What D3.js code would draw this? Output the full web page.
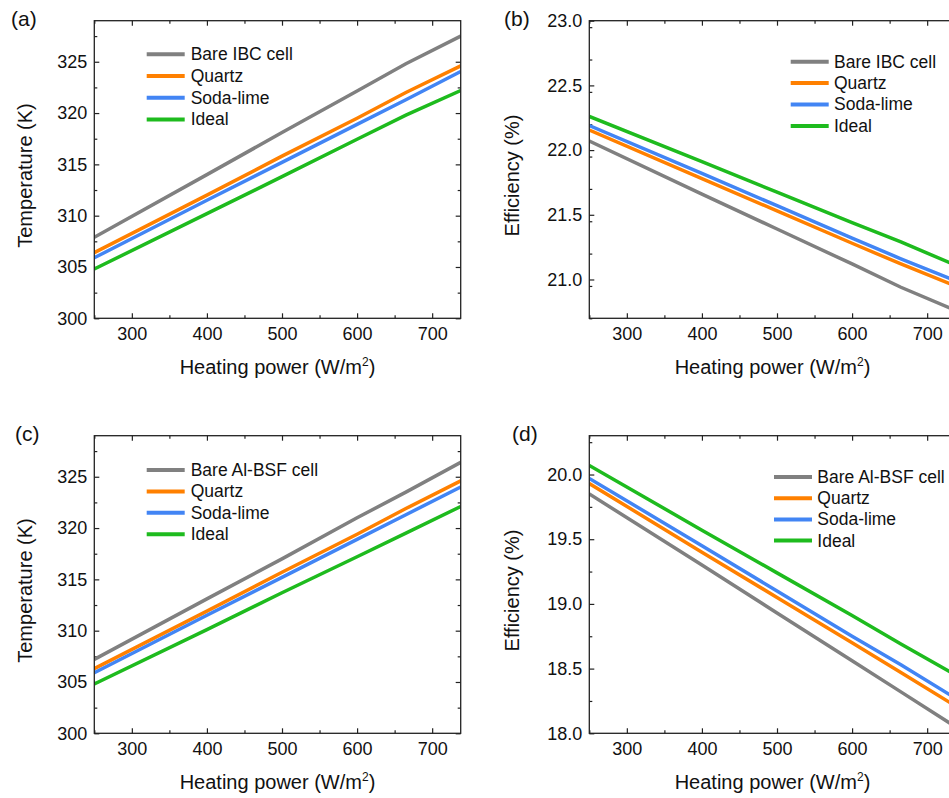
<!DOCTYPE html>
<html>
<head>
<meta charset="utf-8">
<script src="https://cdn.jsdelivr.net/npm/d3@7"></script>
<style>
  body { margin: 0; background: #fff; }
  svg { font-family: "Liberation Sans", Arial, sans-serif; }
</style>
</head>
<body>
<div id="chart"></div>
<script>
// heating power sample points (W/m2)
var power = [250, 400, 500, 600, 665, 738];

var seriesColors = ["#808080", "#ff8000", "#4285f4", "#1ebb1e"];

// (a) IBC cell temperature (K)
var tempIbcBare   = [307.9, 314.0, 318.1, 322.15, 324.8, 327.5];
var tempIbcQuartz = [306.4, 312.0, 315.8, 319.5, 322.0, 324.6];
var tempIbcSoda   = [305.9, 311.5, 315.2, 318.9, 321.3, 324.05];
var tempIbcIdeal  = [304.8, 310.2, 313.8, 317.45, 319.8, 322.2];

// (b) IBC cell efficiency (%)
var effIbcBare   = [22.07, 21.66, 21.39, 21.12, 20.94, 20.76];
var effIbcQuartz = [22.155, 21.78, 21.53, 21.28, 21.12, 20.95];
var effIbcSoda   = [22.19, 21.82, 21.57, 21.32, 21.16, 20.99];
var effIbcIdeal  = [22.26, 21.91, 21.675, 21.44, 21.29, 21.11];

// (c) Al-BSF cell temperature (K)
var tempBsfBare   = [307.2, 313.1, 317.0, 321.0, 323.5, 326.4];
var tempBsfQuartz = [306.3, 311.9, 315.7, 319.4, 321.9, 324.6];
var tempBsfSoda   = [305.9, 311.5, 315.2, 318.9, 321.3, 324.0];
var tempBsfIdeal  = [304.8, 310.1, 313.7, 317.2, 319.5, 322.1];

// (d) Al-BSF cell efficiency (%)
var effBsfBare   = [19.85, 19.30, 18.93, 18.56, 18.32, 18.05];
var effBsfQuartz = [19.93, 19.40, 19.05, 18.70, 18.47, 18.21];
var effBsfSoda   = [19.97, 19.45, 19.10, 18.75, 18.53, 18.27];
var effBsfIdeal  = [20.07, 19.57, 19.24, 18.91, 18.69, 18.45];

var ibcNames = ["Bare IBC cell", "Quartz", "Soda-lime", "Ideal"];
var bsfNames = ["Bare Al-BSF cell", "Quartz", "Soda-lime", "Ideal"];

var xTicks = [300, 400, 500, 600, 700];
var tempTicks = [300, 305, 310, 315, 320, 325];
var effIbcTicks = [21.0, 21.5, 22.0, 22.5, 23.0];
var effBsfTicks = [18.0, 18.5, 19.0, 19.5, 20.0];

var W = 949, H = 798;
var pw = 366.4, ph = 297.6;

var svg = d3.select("#chart").append("svg")
  .attr("width", W)
  .attr("height", H);

var panels = [
  { id: "a", left: 94.3, top: 20.7, ydom: [300, 329], yticks: tempTicks, yminor: 2.5, yfmt: d3.format("d"),
    ytitle: "Temperature (K)", ytx: 32, names: ibcNames,
    data: [tempIbcBare, tempIbcQuartz, tempIbcSoda, tempIbcIdeal],
    leg: { x: 52.4, tx: 96.4, y: 33.6, dy: 21.7 } },
  { id: "b", left: 589.3, top: 20.7, ydom: [20.7, 23.0], yticks: effIbcTicks, yminor: 0.25, yfmt: d3.format(".1f"),
    ytitle: "Efficiency (%)", ytx: 519, names: ibcNames,
    data: [effIbcBare, effIbcQuartz, effIbcSoda, effIbcIdeal],
    leg: { x: 201.4, tx: 244.7, y: 41, dy: 21.4 } },
  { id: "c", left: 94.3, top: 435.7, ydom: [300, 329], yticks: tempTicks, yminor: 2.5, yfmt: d3.format("d"),
    ytitle: "Temperature (K)", ytx: 32, names: bsfNames,
    data: [tempBsfBare, tempBsfQuartz, tempBsfSoda, tempBsfIdeal],
    leg: { x: 52.4, tx: 96.4, y: 34.3, dy: 21.4 } },
  { id: "d", left: 589.3, top: 435.7, ydom: [18.0, 20.3], yticks: effBsfTicks, yminor: 0.25, yfmt: d3.format(".1f"),
    ytitle: "Efficiency (%)", ytx: 519, names: bsfNames,
    data: [effBsfBare, effBsfQuartz, effBsfSoda, effBsfIdeal],
    leg: { x: 184.7, tx: 228, y: 41.3, dy: 21.2 } }
];

panels.forEach(drawPanel);

function drawPanel(p) {
  var x = d3.scaleLinear().domain([250, 738]).range([0, pw]);
  var y = d3.scaleLinear().domain(p.ydom).range([ph, 0]);

  var g = svg.append("g").attr("transform", "translate(" + p.left + "," + p.top + ")");

  g.append("clipPath").attr("id", "clip-" + p.id)
    .append("rect").attr("width", pw).attr("height", ph);

  // minor ticks
  var xMinor = d3.range(250, 739, 50).filter(function(v) { return xTicks.indexOf(v) < 0; });
  var yMinor = d3.range(p.ydom[0], p.ydom[1] + 1e-9, p.yminor)
    .map(function(v) { return +v.toFixed(3); })
    .filter(function(v) { return p.yticks.indexOf(v) < 0; });

  function styleAxis(sel) {
    sel.select(".domain").remove();
    sel.selectAll("line").attr("stroke", "#222").attr("stroke-width", 1.2);
    sel.selectAll("text").attr("font-size", 18).attr("fill", "#111")
      .attr("font-family", "'Liberation Sans', Arial, sans-serif");
  }

  // bottom
  g.append("g").attr("transform", "translate(0," + ph + ")")
    .call(d3.axisBottom(x).tickValues(xTicks).tickSize(-5).tickPadding(9).tickFormat(d3.format("d")))
    .call(styleAxis);
  g.append("g").attr("transform", "translate(0," + ph + ")")
    .call(d3.axisBottom(x).tickValues(xMinor).tickSize(-3).tickFormat(""))
    .call(styleAxis);
  // top
  g.append("g")
    .call(d3.axisTop(x).tickValues(xTicks).tickSize(-5).tickFormat(""))
    .call(styleAxis);
  g.append("g")
    .call(d3.axisTop(x).tickValues(xMinor).tickSize(-3).tickFormat(""))
    .call(styleAxis);
  // left
  g.append("g")
    .call(d3.axisLeft(y).tickValues(p.yticks).tickSize(-5).tickPadding(7).tickFormat(p.yfmt))
    .call(styleAxis);
  g.append("g")
    .call(d3.axisLeft(y).tickValues(yMinor).tickSize(-3).tickFormat(""))
    .call(styleAxis);
  // right
  g.append("g").attr("transform", "translate(" + pw + ",0)")
    .call(d3.axisRight(y).tickValues(p.yticks).tickSize(-5).tickFormat(""))
    .call(styleAxis);
  g.append("g").attr("transform", "translate(" + pw + ",0)")
    .call(d3.axisRight(y).tickValues(yMinor).tickSize(-3).tickFormat(""))
    .call(styleAxis);

  // series
  var line = d3.line()
    .x(function(d, i) { return x(power[i]); })
    .y(function(d) { return y(d); });

  g.append("g").attr("clip-path", "url(#clip-" + p.id + ")")
    .selectAll("path")
    .data(p.data)
    .enter().append("path")
      .attr("d", line)
      .attr("fill", "none")
      .attr("stroke", function(d, i) { return seriesColors[i]; })
      .attr("stroke-width", 3.5);

  // frame
  g.append("rect")
    .attr("width", pw).attr("height", ph)
    .attr("fill", "none").attr("stroke", "#222").attr("stroke-width", 1.3);

  // legend
  var leg = g.append("g").attr("class", "legend");
  p.names.forEach(function(name, i) {
    var ly = p.leg.y + i * p.leg.dy;
    leg.append("line")
      .attr("x1", p.leg.x).attr("x2", p.leg.x + 38)
      .attr("y1", ly).attr("y2", ly)
      .attr("stroke", seriesColors[i]).attr("stroke-width", 4);
    leg.append("text")
      .attr("x", p.leg.tx).attr("y", ly + 6)
      .attr("font-size", 17.5).attr("fill", "#111")
      .text(name);
  });

  // x title
  var xt = g.append("text")
    .attr("x", pw / 2).attr("y", ph + 56)
    .attr("text-anchor", "middle")
    .attr("font-size", 20).attr("fill", "#111");
  xt.append("tspan").text("Heating power (W/m");
  xt.append("tspan").attr("font-size", 12).attr("dy", -8).text("2");
  xt.append("tspan").attr("dy", 8).text(")");

  // y title
  svg.append("text")
    .attr("transform", "translate(" + p.ytx + "," + (p.top + ph / 2 + 6) + ") rotate(-90)")
    .attr("text-anchor", "middle")
    .attr("font-size", 20).attr("fill", "#111")
    .text(p.ytitle);

  // panel label
  svg.append("text")
    .attr("x", p.id === "a" ? 11 : p.id === "b" ? 504 : p.id === "c" ? 15 : 512)
    .attr("y", p.id === "a" || p.id === "b" ? 26 : 441)
    .attr("font-size", 21).attr("fill", "#111")
    .text("(" + p.id + ")");
}
</script>
</body>
</html>
